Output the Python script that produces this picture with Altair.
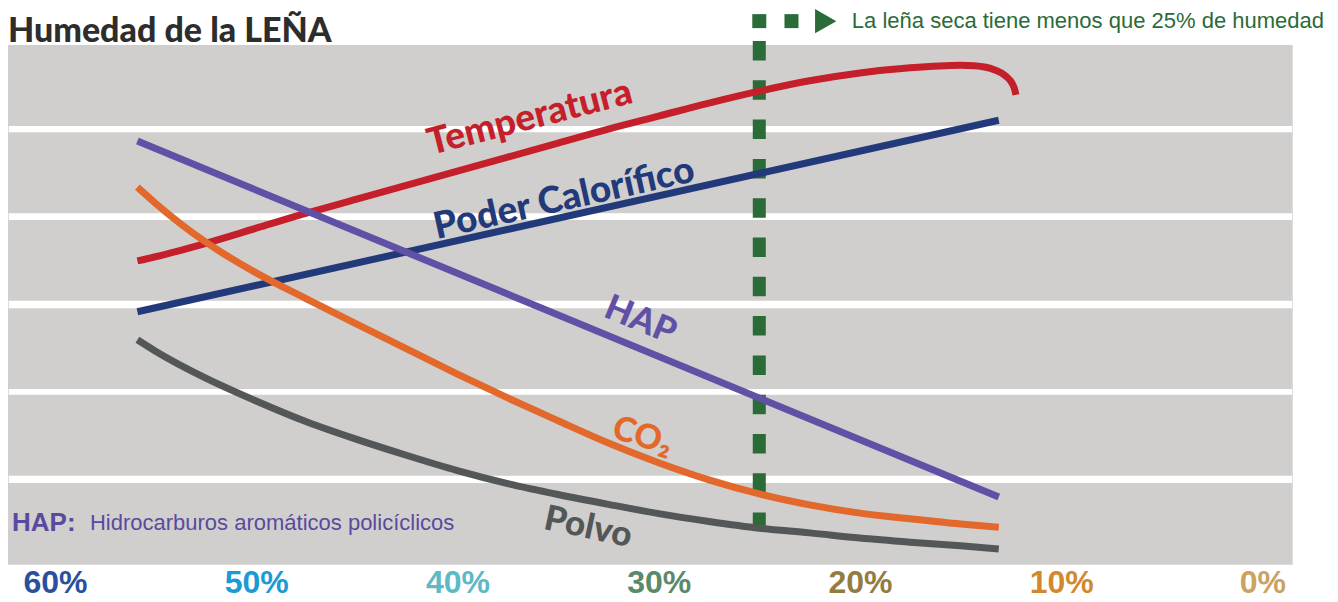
import altair as alt
import pandas as pd

# ---------------- data ----------------
# x: humedad de la leña (%), y: nivel relativo (0-100, escala arbitraria)
HUM = [55.9, 55, 52.5, 50, 47.5, 45, 42.5, 40, 37.5, 35, 32.5, 30,
       27.5, 25, 22.5, 20, 17.5, 15, 13.1]

TEMP_HUM = [55.9, 55, 52.5, 50, 47.5, 45, 42.5, 40, 37.5, 35, 32.5, 30,
            27.5, 25, 22.5, 20, 17.5, 15, 14.3, 13.3, 12.75, 12.45, 12.3, 12.25]
TEMPERATURA = [58.4, 59.2, 61.8, 64.7, 67.6, 70.3, 73.0, 75.7, 78.4, 81.1, 83.8, 86.3,
               88.8, 91.1, 93.1, 94.6, 95.6, 96.1, 96.0, 95.2, 94.0, 92.7, 91.3, 90.4]

PODER_HUM = [55.9, 13.1]
PODER = [48.6, 85.5]

HAP_HUM = [55.9, 13.1]
HAP = [81.5, 12.9]

CO2 = [72.6, 69.5, 62.0, 56.1, 51.1, 46.2, 41.4, 36.6, 32.0, 27.6, 23.3, 19.5,
       16.2, 13.5, 11.4, 9.8, 8.7, 7.7, 7.1]

POLVO = [43.2, 41.0, 35.8, 31.4, 27.4, 24.0, 20.9, 18.0, 15.5, 13.4, 11.5, 9.7,
         8.2, 6.9, 6.0, 5.0, 4.2, 3.5, 2.9]

TICKS = [60, 50, 40, 30, 20, 10, 0]
TICK_COLORS = ["#2b4f9e", "#1c9ad6", "#5db9c5", "#5b8a6b", "#947b3f", "#d1892f", "#c9a35f"]

BAND_TOP = [100, 83.2, 66.3, 49.3, 32.6, 15.6]
BAND_BOTTOM = [84.4, 67.6, 50.7, 33.7, 17.0, 0]

SECA = 25          # umbral de leña seca (% humedad)
X_MAX, X_MIN = 62.33, -1.47

SERIES = ["Temperatura", "Poder Calorífico", "HAP", "CO2", "Polvo"]
COLORS = ["#c41f2b", "#22397a", "#6151a6", "#e2682b", "#545757"]
GREEN = "#2a6b38"
BAND = "#d0cfcd"

SANS = "Liberation Sans, Arial, sans-serif"
HEAVY = "Lato, Roboto, Liberation Sans, sans-serif"

# ---------------- tables ----------------
rows = []
for name, hs, vs in [("Temperatura", TEMP_HUM, TEMPERATURA),
                     ("Poder Calorífico", PODER_HUM, PODER),
                     ("HAP", HAP_HUM, HAP),
                     ("CO2", HUM, CO2),
                     ("Polvo", HUM, POLVO)]:
    for i, (h, v) in enumerate(zip(hs, vs)):
        rows.append({"serie": name, "hum": h, "val": v, "ord": i})
lines_df = pd.DataFrame(rows)

bands_df = pd.DataFrame({"hum": [X_MAX] * len(BAND_TOP), "hum2": [X_MIN] * len(BAND_TOP),
                         "val": BAND_TOP, "val2": BAND_BOTTOM})

xs = alt.Scale(domain=[X_MAX, X_MIN], nice=False, zero=False)
ys = alt.Scale(domain=[0, 100], nice=False, zero=False)

label_color = {"condition": [{"test": f"datum.value == {t}", "value": c}
                             for t, c in zip(TICKS, TICK_COLORS)],
               "value": "#333333"}

xaxis = alt.Axis(values=TICKS, labelExpr="datum.value + '%'", domain=False, ticks=False,
                 grid=False, title=None, labelFont=SANS, labelFontSize=32,
                 labelFontWeight="bold", labelPadding=3, labelColor=label_color,
                 labelFlush=False, labelOverlap=False)

X = alt.X("hum:Q", scale=xs, axis=xaxis)
Y = alt.Y("val:Q", scale=ys, axis=None)

bands = alt.Chart(bands_df).mark_rect(color=BAND).encode(
    x=X, x2="hum2:Q", y=Y, y2="val2:Q")

rule_df = pd.DataFrame({"hum": [SECA], "val": [100.77], "val2": [6.55]})
dashed = alt.Chart(rule_df).mark_rule(color=GREEN, strokeWidth=13, strokeDash=[19.5, 19.8],
                                      strokeCap="butt").encode(x=X, y=Y, y2="val2:Q")

lines = alt.Chart(lines_df).mark_line(strokeWidth=7, interpolate="monotone",
                                      strokeCap="butt").encode(
    x=X, y=Y, order="ord:Q",
    color=alt.Color("serie:N", scale=alt.Scale(domain=SERIES, range=COLORS), legend=None))


def text_layer(txt, h, v, color, size, font, weight="normal", angle=0,
               align="center", baseline="middle"):
    df = pd.DataFrame({"hum": [h], "val": [v], "t": [txt]})
    kw = dict(color=color, fontSize=size, font=font, fontWeight=weight,
              align=align, baseline=baseline)
    if angle:
        kw["angle"] = angle
    return alt.Chart(df).mark_text(**kw).encode(x=X, y=Y, text="t:N")


labels = [
    text_layer("Temperatura", 36.4, 85.9, COLORS[0], 37, HEAVY, 900, 345.5),
    text_layer("Poder Calorífico", 34.7, 70.3, COLORS[1], 37, HEAVY, 900, 347.4),
    text_layer("HAP", 30.9, 47.0, COLORS[2], 35, HEAVY, 900, 22.5),
    text_layer("CO₂", 30.8, 24.5, COLORS[3], 34, HEAVY, 900, 17),
    text_layer("Polvo", 33.5, 7.1, COLORS[4], 35, HEAVY, 900, 12),
]

title = text_layer("Humedad de la LEÑA", X_MAX, 100.58, "#2d2d2d", 34, HEAVY, 900,
                   align="left", baseline="alphabetic")

note1 = text_layer("HAP:", 62.13, 7.9, "#5a4a9e", 26, SANS, "bold", align="left")
note2 = text_layer("Hidrocarburos aromáticos policíclicos", 58.26, 7.9, "#5a4a9e", 22,
                   SANS, "normal", align="left")

leg_sq_df = pd.DataFrame({"hum": [25.0, 23.4], "val": [104.6, 104.6]})
leg_sq = alt.Chart(leg_sq_df).mark_square(size=196, color=GREEN, opacity=1).encode(x=X, y=Y)
leg_tri_df = pd.DataFrame({"hum": [21.7], "val": [104.6]})
leg_tri = alt.Chart(leg_tri_df).mark_point(shape="triangle-right", filled=True, size=600,
                                           color=GREEN, opacity=1).encode(x=X, y=Y)
leg_txt = text_layer("La leña seca tiene menos que 25% de humedad", 20.4, 104.6, GREEN, 22,
                     SANS, "normal", align="left")

chart = alt.layer(bands, dashed, lines, *labels, title, note1, note2,
                  leg_sq, leg_tri, leg_txt).properties(
    width=1284, height=519,
    autosize=alt.AutoSizeParams(type="none"),
    padding={"left": 0, "top": 37, "right": 38, "bottom": 36},
).configure_view(stroke=None).configure(background="white")

chart.save("out.html", embed_options={"renderer": "svg", "actions": False})
